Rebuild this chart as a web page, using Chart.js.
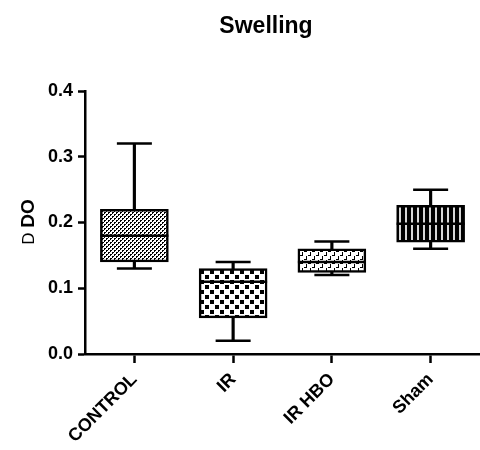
<!DOCTYPE html>
<html>
<head>
<meta charset="utf-8">
<script src="https://cdn.jsdelivr.net/npm/chart.js@4"></script>
<style>
  body { margin: 0; background: #fff; }
</style>
</head>
<body>
<canvas id="chart" width="480" height="450"></canvas>
<script>
const categories = ['CONTROL', 'IR', 'IR HBO', 'Sham'];
const whiskerMin = [0.13, 0.02, 0.12, 0.16];
const q1 = [0.14, 0.055, 0.124, 0.17];
const medians = [0.18, 0.11, 0.14, 0.198];
const q3 = [0.22, 0.13, 0.16, 0.226];
const whiskerMax = [0.32, 0.14, 0.171, 0.25];
const yTicks = [0, 0.1, 0.2, 0.3, 0.4];

const FONT = '"Liberation Sans", Arial, sans-serif';

// small tiles for the box fills
function makePattern(size, draw) {
    const c = document.createElement('canvas');
    c.width = size[0];
    c.height = size[1];
    const g = c.getContext('2d');
    draw(g);
    return c.getContext('2d').createPattern(c, 'repeat');
}

const patterns = [
    makePattern([4, 4], function (g) {
        g.fillStyle = '#fff'; g.fillRect(0, 0, 4, 4);
        g.fillStyle = '#000';
        g.fillRect(0, 0, 2, 1); g.fillRect(2, 2, 2, 1);
        g.fillRect(0, 1, 1, 1); g.fillRect(2, 3, 1, 1);
    }),
    makePattern([10, 10], function (g) {
        g.fillStyle = '#fff'; g.fillRect(0, 0, 10, 10);
        g.fillStyle = '#000';
        g.fillRect(0, 0, 4, 4); g.fillRect(5, 5, 4, 4);
    }),
    makePattern([8, 8], function (g) {
        g.fillStyle = '#fff'; g.fillRect(0, 0, 8, 8);
        g.fillStyle = '#000';
        g.fillRect(0, 3, 3, 1); g.fillRect(4, 7, 3, 1);
        g.fillRect(2, 0, 1, 3); g.fillRect(6, 4, 1, 3);
    }),
    makePattern([6, 4], function (g) {
        g.fillStyle = '#000'; g.fillRect(0, 0, 6, 4);
        g.fillStyle = '#d8d8d8';
        g.fillRect(3, 0, 2, 4);
    })
];

const boxExtras = {
    id: 'boxExtras',
    afterDatasetsDraw(chart) {
        const ctx = chart.ctx;
        const x = chart.scales.x;
        const y = chart.scales.y;
        ctx.save();
        ctx.strokeStyle = '#000';
        ctx.lineWidth = 2.5;
        categories.forEach(function (c, i) {
            const cx = x.getPixelForValue(i);
            [whiskerMin[i], whiskerMax[i]].forEach(function (v) {
                const py = y.getPixelForValue(v);
                ctx.beginPath();
                ctx.moveTo(cx - 17.5, py);
                ctx.lineTo(cx + 17.5, py);
                ctx.stroke();
            });
            const my = y.getPixelForValue(medians[i]);
            ctx.beginPath();
            ctx.moveTo(cx - 34, my);
            ctx.lineTo(cx + 34, my);
            ctx.stroke();
        });
        ctx.restore();
    },
    afterDraw(chart) {
        const ctx = chart.ctx;
        ctx.save();
        ctx.fillStyle = '#000';
        ctx.textAlign = 'center';
        ctx.textBaseline = 'middle';
        ctx.font = 'bold 23px ' + FONT;
        ctx.fillText('Swelling', 266, 27);

        // y axis title, the delta shows up as a plain D
        ctx.translate(29, 222);
        ctx.rotate(-Math.PI / 2);
        ctx.textAlign = 'left';
        ctx.font = '17px ' + FONT;
        const a = ctx.measureText('D ').width;
        ctx.font = 'bold 19px ' + FONT;
        const b = ctx.measureText('DO').width;
        const start = -(a + b) / 2;
        ctx.font = '17px ' + FONT;
        ctx.fillText('D ', start, 0);
        ctx.font = 'bold 19px ' + FONT;
        ctx.fillText('DO', start + a, 0);
        ctx.restore();
    }
};

new Chart(document.getElementById('chart'), {
    type: 'bar',
    data: {
        labels: categories,
        datasets: [{
            data: categories.map(function (c, i) { return [q1[i], q3[i]]; }),
            backgroundColor: patterns,
            borderColor: '#000',
            borderWidth: 2.5,
            borderSkipped: false,
            barThickness: 68,
            grouped: false,
            order: 1
        }, {
            data: categories.map(function (c, i) { return [whiskerMin[i], whiskerMax[i]]; }),
            backgroundColor: '#000',
            borderWidth: 0,
            barThickness: 2.5,
            grouped: false,
            order: 2
        }]
    },
    options: {
        responsive: false,
        animation: false,
        layout: { padding: { top: 91, right: 0, left: 0, bottom: 0 } },
        plugins: {
            legend: { display: false },
            tooltip: { enabled: false }
        },
        scales: {
            x: {
                afterFit: function (s) { s.height = 96; },
                grid: { offset: false, drawOnChartArea: false, tickLength: 9, tickColor: '#000', tickWidth: 2.5 },
                border: { color: '#000', width: 2.5 },
                ticks: {
                    color: '#000',
                    maxRotation: 45,
                    minRotation: 45,
                    padding: 6,
                    font: { family: FONT, size: 18, weight: 'bold' }
                }
            },
            y: {
                min: 0,
                max: 0.4,
                afterFit: function (s) { s.width = 85; },
                afterBuildTicks: function (s) {
                    s.ticks = yTicks.map(function (v) { return { value: v }; });
                },
                grid: { drawOnChartArea: false, tickLength: 7, tickColor: '#000', tickWidth: 2.5 },
                border: { color: '#000', width: 2.5 },
                ticks: {
                    color: '#000',
                    padding: 5,
                    font: { family: FONT, size: 18, weight: 'bold' },
                    callback: function (value) { return value.toFixed(1); }
                }
            }
        }
    },
    plugins: [boxExtras]
});
</script>
</body>
</html>
